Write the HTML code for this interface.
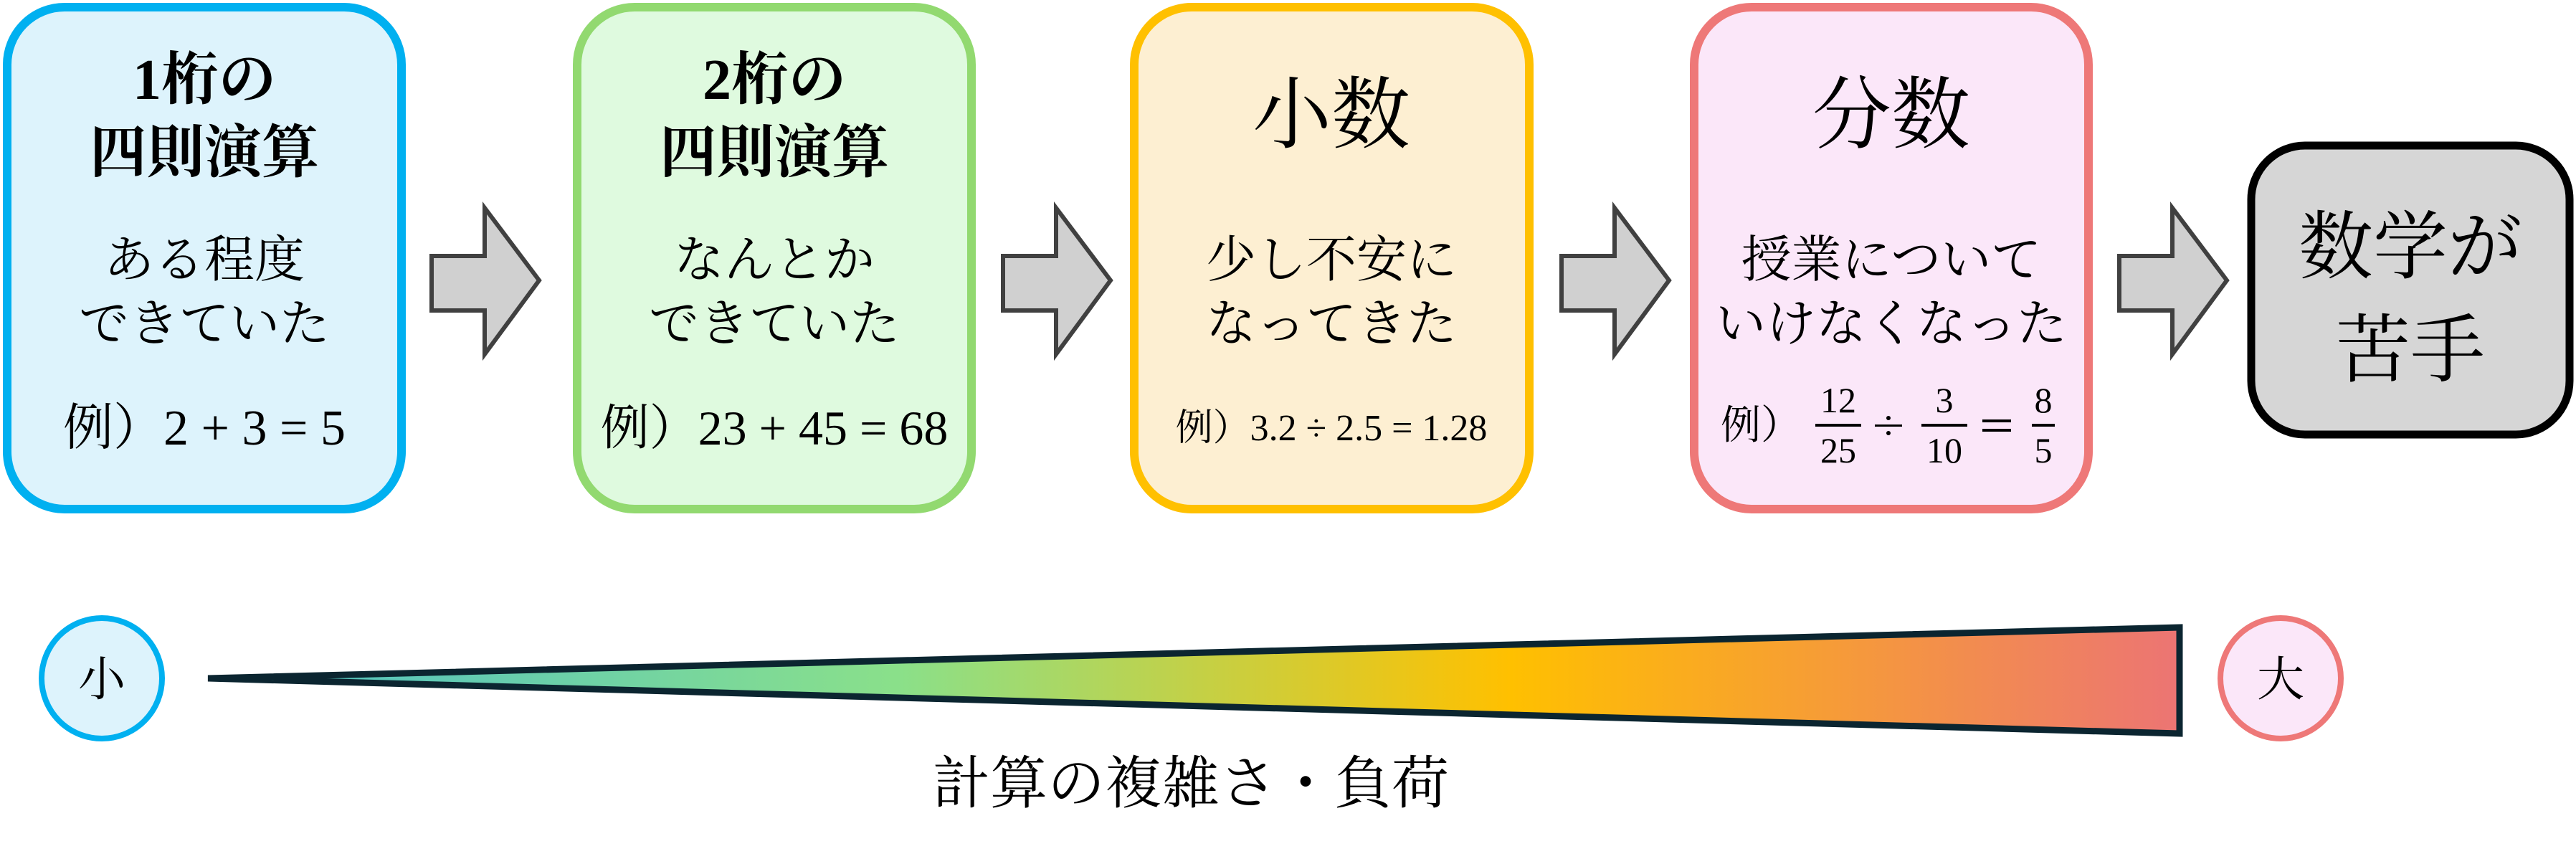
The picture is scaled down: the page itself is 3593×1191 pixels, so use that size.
<!DOCTYPE html>
<html><head><meta charset="utf-8"><style>
html,body{margin:0;padding:0;background:#fff;}
svg{display:block;}
text{font-family:"Liberation Serif","Noto Serif CJK SC","Noto Serif CJK SC",serif;fill:#000;}
</style></head><body>
<svg width="3593" height="1191" viewBox="0 0 3593 1191" xmlns="http://www.w3.org/2000/svg">
<defs>
<linearGradient id="g" x1="286" y1="0" x2="3043" y2="0" gradientUnits="userSpaceOnUse">
<stop offset="0" stop-color="#4cbfc9"/>
<stop offset="0.35" stop-color="#8ae08a"/>
<stop offset="0.66" stop-color="#ffc000"/>
<stop offset="1" stop-color="#ec7474"/>
</linearGradient>
</defs>
<rect x="10" y="10" width="550" height="700" rx="80" fill="#ddf3fc" stroke="#00b0f0" stroke-width="12"/>
<rect x="805" y="10" width="550" height="700" rx="80" fill="#dffadf" stroke="#92d970" stroke-width="12"/>
<rect x="1582" y="10" width="551" height="700" rx="80" fill="#fdefd2" stroke="#ffc000" stroke-width="12"/>
<rect x="2363" y="10" width="550" height="700" rx="80" fill="#fbe7f9" stroke="#ee7878" stroke-width="12"/>
<rect x="3140" y="203" width="444" height="403" rx="75" fill="#d6d6d6" stroke="#000" stroke-width="11"/>
<g fill="#d0d0d0" stroke="#404040" stroke-width="6">
<polygon points="602,357 676,357 676,290 752,391 676,494 676,433 602,433"/>
<polygon points="1399,357 1473,357 1473,290 1549,391 1473,494 1473,433 1399,433"/>
<polygon points="2178,357 2252,357 2252,290 2328,391 2252,494 2252,433 2178,433"/>
<polygon points="2956,357 3030,357 3030,290 3106,391 3030,494 3030,433 2956,433"/>
</g>
<text x="285" y="138" font-size="80" font-weight="bold" text-anchor="middle">1桁の</text>
<text x="285" y="240" font-size="80" font-weight="bold" text-anchor="middle">四則演算</text>
<text x="285" y="386" font-size="70" text-anchor="middle">ある程度</text>
<text x="285" y="475" font-size="70" text-anchor="middle">できていた</text>
<text x="285" y="620" font-size="70" text-anchor="middle">例）2 + 3 = 5</text>
<text x="1080" y="138" font-size="80" font-weight="bold" text-anchor="middle">2桁の</text>
<text x="1080" y="240" font-size="80" font-weight="bold" text-anchor="middle">四則演算</text>
<text x="1080" y="386" font-size="70" text-anchor="middle">なんとか</text>
<text x="1080" y="475" font-size="70" text-anchor="middle">できていた</text>
<text x="1080" y="620" font-size="68" text-anchor="middle">例）23 + 45 = 68</text>
<text x="1857" y="198" font-size="110" text-anchor="middle">小数</text>
<text x="1857" y="386" font-size="70" text-anchor="middle">少し不安に</text>
<text x="1857" y="475" font-size="70" text-anchor="middle">なってきた</text>
<text x="1857" y="614" font-size="52" text-anchor="middle">例）3.2 ÷ 2.5 = 1.28</text>
<text x="2638" y="198" font-size="110" text-anchor="middle">分数</text>
<text x="2638" y="386" font-size="70" text-anchor="middle">授業について</text>
<text x="2638" y="475" font-size="70" text-anchor="middle">いけなくなった</text>
<text x="2400" y="612" font-size="56">例）</text>
<g font-size="50" text-anchor="middle">
<text x="2564" y="575" font-family="DejaVu Sans, sans-serif">12</text>
<text x="2564" y="645" font-family="DejaVu Sans, sans-serif">25</text>
<text x="2712" y="575" font-family="DejaVu Sans, sans-serif">3</text>
<text x="2712" y="645" font-family="DejaVu Sans, sans-serif">10</text>
<text x="2850" y="575" font-family="DejaVu Sans, sans-serif">8</text>
<text x="2850" y="645" font-family="DejaVu Sans, sans-serif">5</text>
</g>
<g fill="#000">
<rect x="2532" y="591" width="64" height="4"/>
<rect x="2680" y="591" width="64" height="4"/>
<rect x="2834" y="591" width="32" height="4"/>
<rect x="2765" y="585" width="40" height="4"/>
<rect x="2765" y="598" width="40" height="4"/>
<rect x="2615" y="592" width="38" height="3"/>
<circle cx="2634" cy="583" r="3"/>
<circle cx="2634" cy="604" r="3"/>
</g>
<text x="3362" y="380" font-size="104" text-anchor="middle">数学が</text>
<text x="3362" y="524" font-size="104" text-anchor="middle">苦手</text>
<circle cx="142" cy="946" r="84" fill="#ddf3fc" stroke="#00b0f0" stroke-width="8"/>
<text x="142" y="970" font-size="66" text-anchor="middle">小</text>
<circle cx="3181" cy="946" r="84" fill="#fbe7f9" stroke="#ee7878" stroke-width="8"/>
<text x="3181" y="970" font-size="66" text-anchor="middle">大</text>
<polygon points="290,946 3040,875 3040,1023" fill="url(#g)" stroke="#0b2530" stroke-width="9"/>
<text x="1661" y="1120" font-size="80" text-anchor="middle">計算の複雑さ・負荷</text>
</svg>
</body></html>
